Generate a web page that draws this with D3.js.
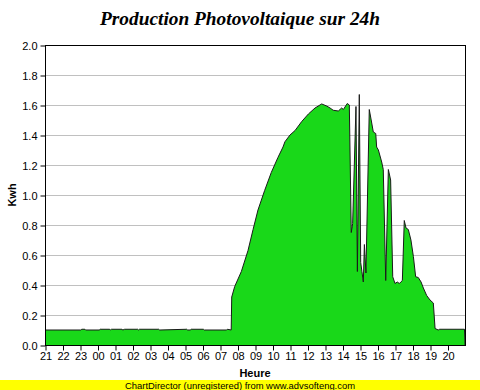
<!DOCTYPE html>
<html>
<head>
<meta charset="utf-8">
<script src="https://cdn.jsdelivr.net/npm/d3@7"></script>
<style>
  html, body { margin: 0; padding: 0; background: #ffffff; }
  svg { display: block; }
</style>
</head>
<body>
<svg id="chart" width="480" height="390"></svg>
<script>
// ---- data (hours elapsed since 21:00, production in kWh) ----
const hourLabels = ["21","22","23","00","01","02","03","04","05","06","07","08","09","10","11","12","13","14","15","16","17","18","19","20"];
const yTicks = [0, 0.2, 0.4, 0.6, 0.8, 1.0, 1.2, 1.4, 1.6, 1.8, 2.0];

const hours = [
  0.00, 2.05, 2.10, 2.28, 2.32, 3.10, 3.15, 3.70, 3.74, 3.80, 4.40, 4.45, 4.55, 5.30, 5.35, 5.40,
  6.50, 6.55, 8.10, 8.15, 8.30, 8.35, 9.05, 9.10, 10.38, 10.42, 10.64,
  10.67, 10.84, 11.22, 11.60, 11.89, 12.17, 12.55, 12.93, 13.31, 13.60, 13.71, 14.00, 14.29,
  14.67, 15.05, 15.43, 15.81, 16.10, 16.29, 16.47, 16.76, 16.95, 17.05, 17.27, 17.39,
  17.50, 17.58, 17.77, 17.85, 17.96, 18.04, 18.11, 18.19, 18.25, 18.34, 18.53, 18.67,
  18.76, 18.90, 18.95, 19.05, 19.24, 19.33, 19.47, 19.62, 19.75, 19.87, 20.00, 20.13,
  20.25, 20.33, 20.42, 20.53, 20.63, 20.76, 20.91, 21.05, 21.18, 21.33, 21.49, 21.62,
  21.81, 22.00, 22.19, 22.29, 22.47, 22.55, 23.97, 24.00
];
const kwh = [
  0.10, 0.10, 0.105, 0.105, 0.10, 0.10, 0.105, 0.105, 0.10, 0.105, 0.105, 0.10, 0.105, 0.105, 0.10, 0.105,
  0.105, 0.10, 0.105, 0.10, 0.10, 0.105, 0.105, 0.10, 0.10, 0.105, 0.10,
  0.32, 0.39, 0.49, 0.63, 0.77, 0.90, 1.03, 1.15, 1.25, 1.32, 1.355, 1.40, 1.43,
  1.49, 1.54, 1.58, 1.607, 1.593, 1.58, 1.565, 1.56, 1.58, 1.57, 1.61, 1.60,
  0.75, 0.81, 1.59, 0.49, 1.67, 0.55, 0.49, 0.42, 0.67, 0.48, 1.57, 1.48,
  1.42, 1.41, 1.32, 1.30, 1.22, 1.17, 0.43, 1.17, 1.10, 0.455, 0.41, 0.42,
  0.41, 0.42, 0.43, 0.83, 0.78, 0.77, 0.70, 0.59, 0.455, 0.45, 0.42, 0.38,
  0.33, 0.30, 0.28, 0.11, 0.10, 0.105, 0.105, 0.00
];

// ---- layout ----
const svg = d3.select("#chart");
const W = 480, H = 390;
const padL = 45, padR = 465, padT = 45, padB = 345;
const sans = "'Liberation Sans', Arial, sans-serif";

svg.append("rect").attr("width", W).attr("height", H).attr("fill", "#ffffff");

const x = d3.scaleLinear().domain([0, 24]).range([padL, padR]);
const y = d3.scaleLinear().domain([0, 2]).range([padB, padT]);

// grid
svg.append("g").selectAll("line").data(yTicks.filter(d => d > 0 && d < 2)).join("line")
  .attr("x1", padL).attr("x2", padR)
  .attr("y1", d => y(d) + 0.5).attr("y2", d => y(d) + 0.5)
  .attr("stroke", "#c0c0c0").attr("stroke-width", 1);

// area
const pts = hours.map((h, i) => [h, kwh[i]]);
svg.append("path").datum(pts)
  .attr("d", d3.area().x(d => x(d[0])).y0(y(0)).y1(d => y(d[1])))
  .attr("fill", "#19d819");
svg.append("path").datum(pts)
  .attr("d", d3.line().x(d => x(d[0])).y(d => y(d[1])))
  .attr("fill", "none").attr("stroke", "#1a1a1a").attr("stroke-width", 1);

// frame
svg.append("rect").attr("x", padL + 0.5).attr("y", padT + 0.5)
  .attr("width", padR - padL).attr("height", padB - padT)
  .attr("fill", "none").attr("stroke", "#000").attr("stroke-width", 1);

// y axis
const yAxis = d3.axisLeft(y).tickValues(yTicks).tickFormat(d3.format(".1f")).tickSize(5).tickPadding(3);
const gy = svg.append("g").attr("transform", `translate(${padL + 0.5},0.5)`).call(yAxis);
gy.select(".domain").remove();
gy.selectAll("text").attr("font-family", sans).attr("font-size", 11).attr("fill", "#000");
gy.selectAll("line").attr("stroke", "#000");

// x axis
const xAxis = d3.axisBottom(x).tickValues(d3.range(hourLabels.length)).tickFormat(i => hourLabels[i]).tickSize(5).tickPadding(2);
const gx = svg.append("g").attr("transform", `translate(0.5,${padB + 0.5})`).call(xAxis);
gx.select(".domain").remove();
gx.selectAll("text").attr("font-family", sans).attr("font-size", 11).attr("fill", "#000");
gx.selectAll("line").attr("stroke", "#000");

// titles
svg.append("text").attr("x", 240).attr("y", 25).attr("text-anchor", "middle")
  .attr("font-family", "'Liberation Serif', 'Times New Roman', serif")
  .attr("font-weight", "bold").attr("font-style", "italic").attr("font-size", 19)
  .attr("textLength", 280).attr("lengthAdjust", "spacingAndGlyphs")
  .text("Production Photovoltaique sur 24h");

svg.append("text").attr("transform", `translate(16,${(padT + padB) / 2}) rotate(-90)`)
  .attr("text-anchor", "middle").attr("font-family", sans).attr("font-weight", "bold").attr("font-size", 11)
  .text("Kwh");

svg.append("text").attr("x", (padL + padR) / 2).attr("y", 377).attr("text-anchor", "middle")
  .attr("font-family", sans).attr("font-weight", "bold").attr("font-size", 11)
  .text("Heure");

// footer
svg.append("rect").attr("x", 0).attr("y", 380).attr("width", W).attr("height", 10).attr("fill", "#ffff00");
svg.append("text").attr("x", 240).attr("y", 388.5).attr("text-anchor", "middle")
  .attr("font-family", sans).attr("font-size", 9.5).attr("fill", "#000")
  .attr("textLength", 230).attr("lengthAdjust", "spacingAndGlyphs")
  .text("ChartDirector (unregistered) from www.advsofteng.com");
</script>
</body>
</html>
